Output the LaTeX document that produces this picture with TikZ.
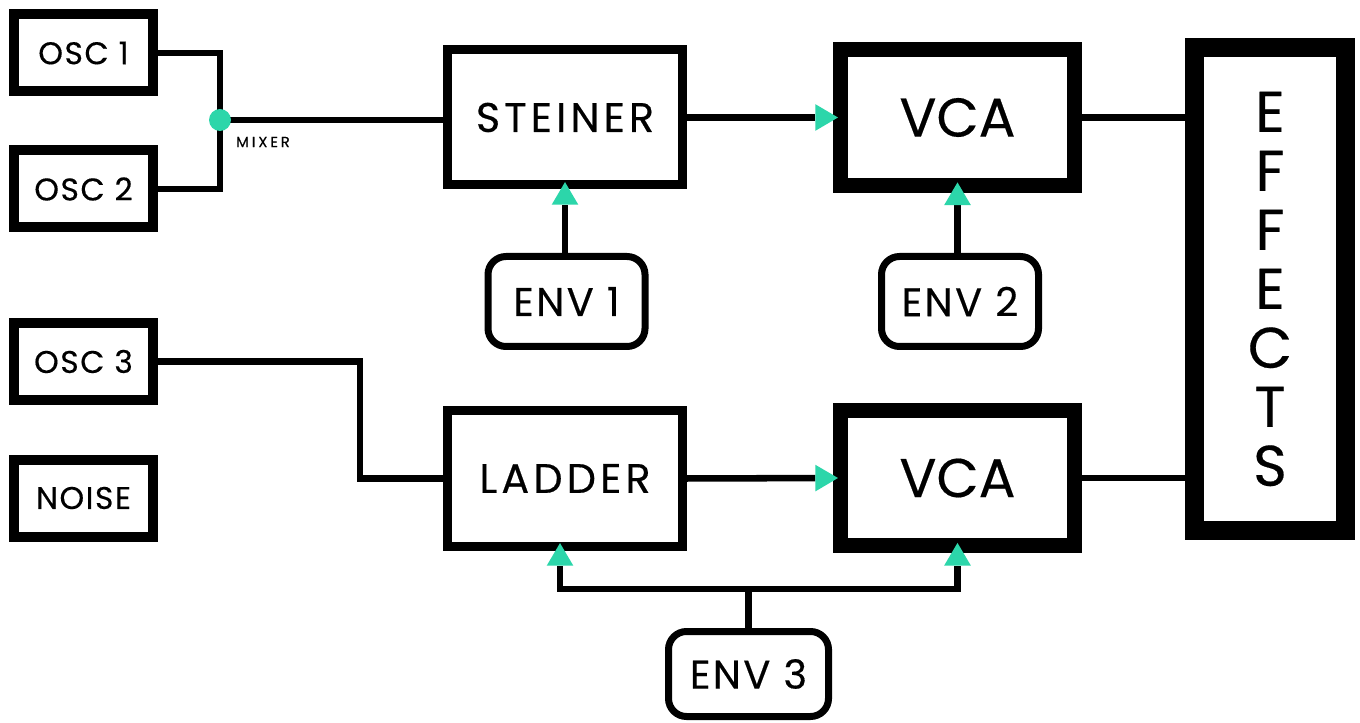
\documentclass[tikz,border=0pt]{standalone}
\usepackage{fontspec}
\setmainfont{Poppins}[FakeBold=0.35]
\usetikzlibrary{arrows.meta,calc}
\definecolor{synteal}{RGB}{44,214,170}
\begin{document}
\begin{tikzpicture}[x=0.75pt,y=-0.75pt,
  box/.style={draw, rectangle, outer sep=0pt, inner sep=0pt},
  oscbox/.style={box, line width=7.5pt, minimum width=104.25pt, minimum height=57.75pt, font=\fontsize{23.5}{28}\selectfont\addfontfeature{LetterSpace=5}},
  filt/.style={box, line width=6.75pt, minimum width=176.25pt, minimum height=101.25pt, font=\fontsize{31}{36}\selectfont\addfontfeature{LetterSpace=10}},
  vcabox/.style={box, line width=11.25pt, minimum width=175.5pt, minimum height=101.75pt, font=\fontsize{41}{48}\selectfont},
  envbox/.style={box, line width=5.25pt, rounded corners=13.5pt, minimum width=117.75pt, minimum height=67.5pt, font=\fontsize{30}{36}\selectfont\addfontfeature{LetterSpace=6}},
  fxbox/.style={box, line width=14.25pt, minimum width=113.25pt, minimum height=362.25pt, align=center, font=\fontsize{43}{44.25}\selectfont},
  wire/.style={line width=4.9pt},
  sig/.style={wire, -{Triangle[length=17pt,width=20pt,color=synteal,fill=synteal,line width=0pt]}},
]
\useasboundingbox[fill=white] (0,0) rectangle (1360,723);
\node[oscbox] (osc1) at (83.5,53) {OSC 1};
\node[oscbox] (osc2) at (83.5,189) {OSC 2};
\node[oscbox] (osc3) at (83.5,361.5) {OSC 3};
\node[oscbox] (noise) at (83.5,498) {NOISE};
\node[filt] (steiner) at (565,117.5) {STEINER};
\node[filt] (ladder) at (565,478.5) {LADDER};
\node[vcabox] (vca1) at (957.5,117.5) {VCA};
\node[vcabox] (vca2) at (957.5,478) {VCA};
\node[fxbox] (fx) at (1270,289) {E\\F\\F\\E\\C\\T\\S};
\node[envbox] (env1) at (566.5,301.5) {ENV 1};
\node[envbox] (env2) at (960,301.5) {ENV 2};
\node[envbox, minimum width=120pt, minimum height=63.75pt] (env3) at (748.5,674) {ENV 3};
\coordinate (mixc) at (220,120);
\draw[wire] (osc1.east) -| (mixc) |- (osc2.east);
\draw[wire] (mixc) -- (mixc -| steiner.west);
\node[circle, fill=synteal, minimum size=16.5pt, inner sep=0pt] (mix) at (mixc) {};
\node[font=\fontsize{11}{13}\selectfont\addfontfeature{LetterSpace=20}, inner sep=0pt] (mixlabel) at (263,142) {MIXER};
\draw[wire] (osc3.east) -- ++(207,0) |- (ladder.west);
\draw[sig, shorten >=1.9pt] (steiner.east) -- (vca1.west);
\draw[sig, shorten >=1.9pt] (ladder.east) -- (vca2.west);
\draw[wire] (vca1.east) -- (vca1.east -| fx.west);
\draw[wire] (vca2.east) -- (vca2.east -| fx.west);
\draw[sig, shorten >=-2.2pt] (env1.north -| steiner.south) -- (steiner.south);
\draw[sig, shorten >=-2.2pt] (env2.north -| vca1.south) -- (vca1.south);
\coordinate (bus) at ($(env3.north)+(0,-42.5)$);
\draw[wire] (env3.north) -- (bus);
\draw[sig, shorten >=-2.2pt] (bus) -| ($(ladder.south)+(-5,0)$);
\draw[sig, shorten >=-2.2pt] (bus) -| (vca2.south);
\end{tikzpicture}
\end{document}
